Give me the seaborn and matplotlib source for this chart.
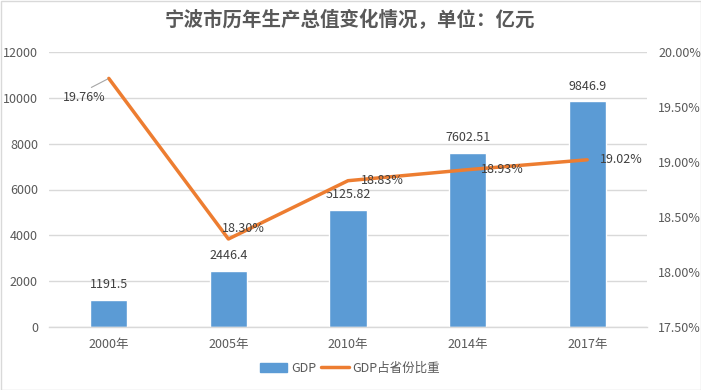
import matplotlib
matplotlib.use("Agg")
import matplotlib.pyplot as plt
import seaborn as sns
import pandas as pd
from matplotlib.patches import Rectangle
from matplotlib.lines import Line2D
from matplotlib.patches import Patch

years = ["2000年", "2005年", "2010年", "2014年", "2017年"]
gdp = [1191.5, 2446.4, 5125.82, 7602.51, 9846.9]
gdp_labels = ["1191.5", "2446.4", "5125.82", "7602.51", "9846.9"]
share = [19.76, 18.30, 18.83, 18.93, 19.02]
share_labels = ["19.76%", "18.30%", "18.83%", "18.93%", "19.02%"]
left_ticks = [0, 2000, 4000, 6000, 8000, 10000, 12000]
right_ticks = [17.5, 18.0, 18.5, 19.0, 19.5, 20.0]
right_tick_labels = ["17.50%", "18.00%", "18.50%", "19.00%", "19.50%", "20.00%"]
title = "宁波市历年生产总值变化情况，单位：亿元"

sns.set_theme(style="white")
plt.rcParams['font.family'] = ['Noto Sans CJK SC', 'DejaVu Sans']

TXT = "#595959"
LAB = "#404040"
GRID = "#D9D9D9"
BLUE = "#5B9BD5"
ORANGE = "#ED7D31"

df = pd.DataFrame({"year": years, "gdp": gdp, "share": share})

fig = plt.figure(figsize=(7.01, 3.90), dpi=100)
ax = fig.add_axes([49/701, 63/390, 598/701, 275/390])

sns.barplot(data=df, x="year", y="gdp", color=BLUE, width=0.31, ax=ax,
            saturation=1, zorder=2)
ax.set_ylim(0, 12000)
ax.set_yticks(left_ticks)
ax.set_yticklabels([str(t) for t in left_ticks])
ax.yaxis.grid(True, color=GRID, linewidth=1, zorder=0)
ax.set_axisbelow(True)
for s in ["top", "right", "left"]:
    ax.spines[s].set_visible(False)
ax.spines["bottom"].set_color(GRID)
ax.spines["bottom"].set_linewidth(1)
ax.tick_params(axis="both", length=0, labelsize=9, labelcolor=TXT)
ax.tick_params(axis="x", pad=8)
ax.tick_params(axis="y", pad=8)
ax.set_xlabel("")
ax.set_ylabel("")
ax.set_xlim(-0.5, 4.5)

for i, (v, lab) in enumerate(zip(gdp, gdp_labels)):
    ax.annotate(lab, (i, v), xytext=(0, 11), textcoords="offset points",
                ha="center", va="center", fontsize=9, color=LAB)

ax2 = ax.twinx()
sns.lineplot(x=list(range(len(years))), y=share, ax=ax2, color=ORANGE,
             linewidth=2.5, sort=False, zorder=3)
ax2.set_ylim(17.5, 20.0)
ax2.set_yticks(right_ticks)
ax2.set_yticklabels(right_tick_labels)
for s in ["top", "right", "left", "bottom"]:
    ax2.spines[s].set_visible(False)
ax2.tick_params(axis="y", length=0, labelsize=9, labelcolor=TXT, pad=8)
ax2.set_ylabel("")
ax2.set_xlim(-0.5, 4.5)

# line labels
ax2.annotate(share_labels[0], (0, share[0]), xytext=(-18, -14),
             textcoords="offset points", ha="center", va="center",
             fontsize=9, color=LAB,
             arrowprops=dict(arrowstyle="-", color="#A6A6A6", lw=0.8,
                             relpos=(0.5, 1.0), shrinkA=1, shrinkB=1))
ax2.annotate(share_labels[1], (1, share[1]), xytext=(11, 7.5),
             textcoords="offset points", ha="center", va="center",
             fontsize=9, color=LAB)
for i in range(2, 5):
    ax2.annotate(share_labels[i], (i, share[i]), xytext=(9.5, 0),
                 textcoords="offset points", ha="left", va="center",
                 fontsize=9, color=LAB)

fig.text(0.5, 1 - 20/390, title, ha="center", va="center", fontsize=14,
         fontweight="bold", color=TXT)

handles = [Patch(facecolor=BLUE, edgecolor=BLUE),
           Line2D([0], [0], color=ORANGE, linewidth=2.5)]
fig.legend(handles, ["GDP", "GDP占省份比重"], loc="center",
           bbox_to_anchor=(350/701, 1 - 368/390), ncol=2, frameon=False,
           fontsize=9, labelcolor=TXT, handlelength=2.2, handletextpad=0.3,
           columnspacing=0.4)

fig.patches.append(Rectangle((0.5/701, 0.5/390), 1 - 1/701, 1 - 1/390,
                             transform=fig.transFigure, fill=False,
                             edgecolor=GRID, linewidth=1))

fig.savefig("out.png", dpi=100)
